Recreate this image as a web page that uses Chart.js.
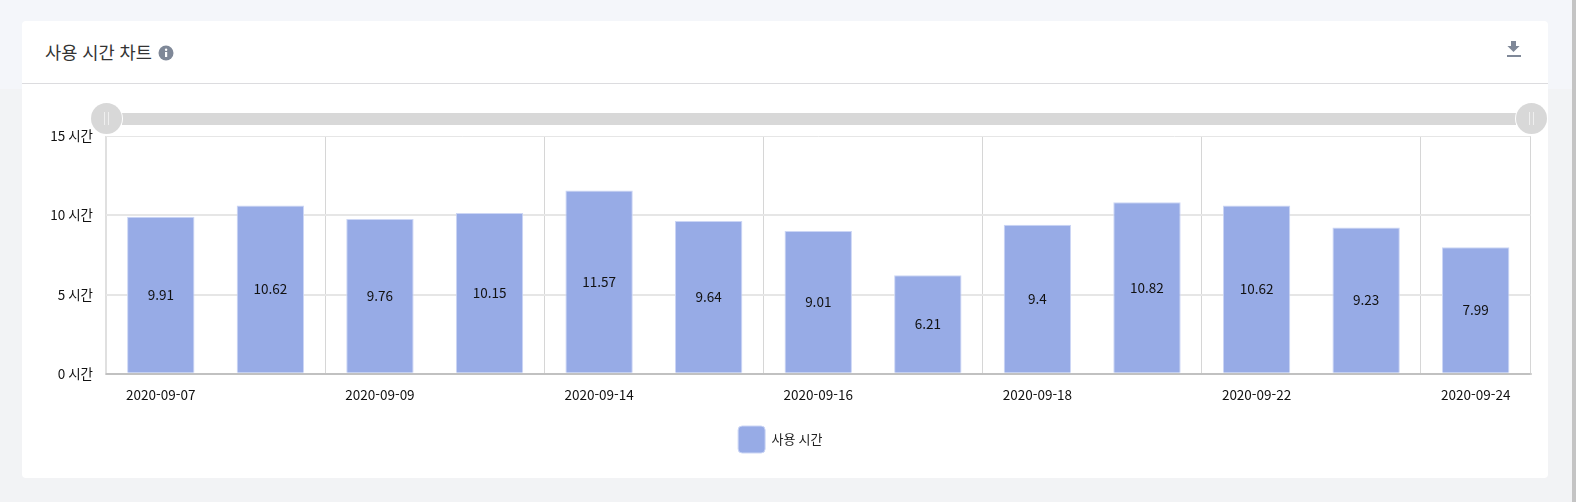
<!DOCTYPE html>
<html lang="ko">
<head>
<meta charset="utf-8">
<title>사용 시간 차트</title>
<script src="https://cdn.jsdelivr.net/npm/chart.js@4/dist/chart.umd.min.js"></script>
<style>
  html, body { margin: 0; padding: 0; }
  body {
    position: relative;
    width: 1576px;
    height: 502px;
    overflow: hidden;
    background: #f2f3f5;
    font-family: "Noto Sans CJK KR", "Noto Sans", sans-serif;
  }
  .page-top { position: absolute; left: 0; top: 0; width: 1572px; height: 89px; background: #f4f6fa; }
  .scrollbar { position: absolute; left: 1572px; top: 0; width: 4px; height: 502px; background: #c4c4c4; }
  .card { position: absolute; left: 22px; top: 21px; width: 1526px; height: 457px; background: #fff; border-radius: 4px; }
  .card-head { position: absolute; left: 22px; top: 83px; width: 1526px; height: 1px; background: #dcdcdf; }
  .title { position: absolute; left: 45px; top: 39px; font-size: 17.6px; line-height: 26px; color: #333; }
  .info { position: absolute; left: 158px; top: 45px; }
  .download { position: absolute; left: 1506px; top: 40px; }
  .track { position: absolute; left: 122px; top: 113px; width: 1394px; height: 12px; background: #d8d8d8; }
  .handle { position: absolute; top: 103px; width: 31px; height: 31px; border-radius: 50%; background: #d8d8d8; box-shadow: 0 0 0 1px #fff; }
  .handle i { position: absolute; top: 9px; width: 1px; height: 13px; background: #efefef; }
  canvas { position: absolute; left: 0; top: 0; }
</style>
</head>
<body>
<div class="page-top"></div>
<div class="scrollbar"></div>
<div class="card"></div>
<div class="card-head"></div>
<div class="title">사용 시간 차트</div>
<svg class="info" width="16" height="16" viewBox="0 0 16 16">
  <circle cx="8" cy="8" r="7.5" fill="#7f8898"/>
  <rect x="7" y="7" width="2.2" height="5" fill="#fff"/>
  <circle cx="8.1" cy="4.8" r="1.2" fill="#fff"/>
</svg>
<svg class="download" width="16" height="18" viewBox="0 0 16 18">
  <path d="M5 1h5v5h3.6L7.5 12 1.4 6H5z" fill="#7f8898"/>
  <rect x="1" y="15" width="14" height="2" fill="#7f8898"/>
</svg>
<canvas id="usageChart" width="1576" height="502"></canvas>
<div class="track"></div>
<div class="handle" style="left:91px"><i style="left:13px"></i><i style="left:17px"></i></div>
<div class="handle" style="left:1516px"><i style="left:13px"></i><i style="left:17px"></i></div>

<script>
const dates = [
  '2020-09-07', '2020-09-08', '2020-09-09', '2020-09-10', '2020-09-14',
  '2020-09-15', '2020-09-16', '2020-09-17', '2020-09-18', '2020-09-21',
  '2020-09-22', '2020-09-23', '2020-09-24'
];
const usageHours = [9.91, 10.62, 9.76, 10.15, 11.57, 9.64, 9.01, 6.21, 9.4, 10.82, 10.62, 9.23, 7.99];
const seriesName = '사용 시간';
const hourTicks = [0, 5, 10, 15];

const FONT_FAMILY = '"Noto Sans CJK KR", "Noto Sans", sans-serif';

// values written in the middle of each bar
const barValueLabels = {
  id: 'barValueLabels',
  afterDatasetsDraw (chart) {
    const { ctx } = chart;
    ctx.save();
    ctx.font = `13.5px ${FONT_FAMILY}`;
    ctx.fillStyle = '#111';
    ctx.textAlign = 'center';
    ctx.textBaseline = 'middle';
    chart.getDatasetMeta(0).data.forEach((bar, i) => {
      const { x, y } = bar.getCenterPoint();
      ctx.fillText(String(usageHours[i]), x, y);
    });
    ctx.restore();
  }
};

// the legend sits centred on the card, not on the plot
const legendShift = {
  id: 'legendShift',
  afterLayout (chart) {
    chart.legend.left += 15;
    chart.legend.right += 15;
  }
};

new Chart(document.getElementById('usageChart'), {
  type: 'bar',
  data: {
    labels: dates,
    datasets: [{
      label: seriesName,
      data: usageHours,
      backgroundColor: '#97abe6',
      borderColor: '#ccd6f5',
      borderWidth: 1,
      categoryPercentage: 0.615,
      barPercentage: 1
    }]
  },
  plugins: [barValueLabels, legendShift],
  options: {
    responsive: false,
    animation: false,
    layout: { padding: { left: 0, right: 45.5, top: 136, bottom: 39 } },
    plugins: {
      tooltip: { enabled: false },
      legend: {
        position: 'bottom',
        labels: {
          boxWidth: 27,
          boxHeight: 27,
          useBorderRadius: true,
          borderRadius: 4,
          padding: 10,
          color: '#222',
          font: { size: 13, family: FONT_FAMILY }
        }
      }
    },
    scales: {
      x: {
        offset: true,
        grid: {
          offset: true,
          drawTicks: false,
          // a line every second category, plus the right edge
          color: ctx => {
            if (ctx.index === 0) return '#e0e0e0';
            return (ctx.index === undefined || ctx.index % 2 === 0) ? '#d6d6d6' : 'transparent';
          },
          lineWidth: ctx => ctx.index === 0 ? 2 : 1
        },
        border: { color: 'rgba(0,0,0,0.16)', width: 2, z: 1 },
        ticks: {
          autoSkip: false,
          maxRotation: 0,
          padding: 13,
          color: '#111',
          font: { size: 13.5, family: FONT_FAMILY },
          callback (value, index) {
            return index % 2 === 0 ? this.getLabelForValue(value) : '';
          }
        }
      },
      y: {
        min: 0,
        max: 15,
        afterBuildTicks (scale) {
          scale.ticks = hourTicks.map(value => ({ value }));
        },
        afterFit (scale) {
          scale.width = 106;
        },
        grid: {
          drawTicks: false,
          color: '#e6e6e6',
          lineWidth: ctx => ctx.tick && ctx.tick.value === 15 ? 1 : 2
        },
        border: { display: false },
        ticks: {
          padding: 13,
          color: '#111',
          font: { size: 13.5, family: FONT_FAMILY },
          callback: value => `${value} 시간`
        }
      }
    }
  }
});
</script>
</body>
</html>
